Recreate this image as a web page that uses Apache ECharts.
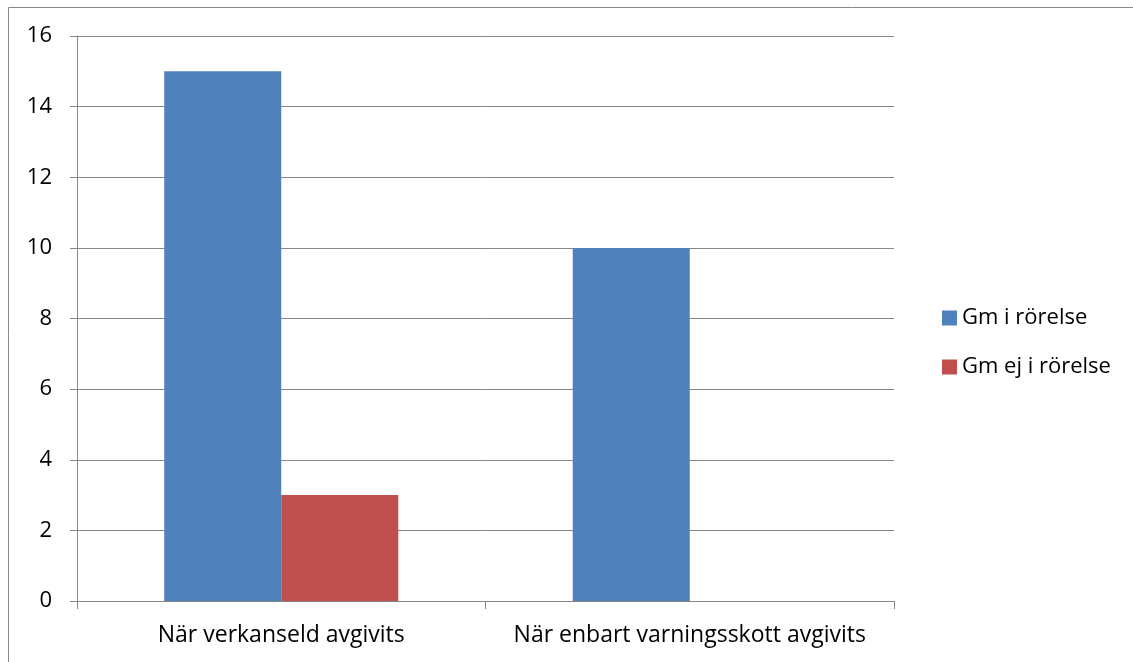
<!DOCTYPE html>
<html>
<head>
<meta charset="utf-8">
<script src="https://cdn.jsdelivr.net/npm/echarts@6/dist/echarts.min.js"></script>
<style>
html,body{margin:0;padding:0;background:#fff;}
#c{width:1133px;height:662px;}
</style>
</head>
<body>
<div id="c"></div>
<script>
const categories = ['När verkanseld avgivits', 'När enbart varningsskott avgivits'];
const seriesNames = ['Gm i rörelse', 'Gm ej i rörelse'];
const gmIRorelse = [15, 10];
const gmEjIRorelse = [3, 0];
const yTicks = [0, 2, 4, 6, 8, 10, 12, 14, 16];

const FONT = 'Open Sans';
const axisColor = '#868686';
const chart = echarts.init(document.getElementById('c'));
chart.setOption({
  animation: false,
  textStyle: { fontFamily: FONT },
  graphic: [{
    type: 'rect',
    shape: { x: 8.5, y: 7.5, width: 1300, height: 800 },
    style: { fill: 'none', stroke: '#888', lineWidth: 1 },
    silent: true
  }],
  grid: { left: 77, right: 239, top: 36, bottom: 61, containLabel: false },
  legend: {
    orient: 'vertical',
    left: 937,
    top: 302,
    itemWidth: 15,
    itemHeight: 15,
    itemGap: 27,
    icon: 'rect',
    data: seriesNames,
    textStyle: { fontFamily: FONT, fontSize: 22, color: '#000', lineHeight: 22 }
  },
  xAxis: {
    type: 'category',
    data: categories,
    axisLine: { lineStyle: { color: axisColor, width: 1 } },
    axisTick: { show: true, length: 8, lineStyle: { color: axisColor } },
    axisLabel: { fontFamily: FONT, fontSize: 23, color: '#000', margin: 23, interval: 0 }
  },
  yAxis: {
    type: 'value',
    min: yTicks[0],
    max: yTicks[yTicks.length - 1],
    interval: 2,
    axisLine: { show: true, lineStyle: { color: axisColor, width: 1 } },
    axisTick: { show: true, length: 7, lineStyle: { color: axisColor } },
    axisLabel: { fontFamily: FONT, fontSize: 22, color: '#000', margin: 25 },
    splitLine: { show: true, lineStyle: { color: axisColor, width: 1 } }
  },
  series: [
    { name: seriesNames[0], type: 'bar', data: gmIRorelse, barGap: '0%', barCategoryGap: '42.7%',
      itemStyle: { color: '#4F81BD' } },
    { name: seriesNames[1], type: 'bar', data: gmEjIRorelse, barGap: '0%', barCategoryGap: '42.7%',
      itemStyle: { color: '#C0504D' } }
  ]
});
</script>
</body>
</html>
